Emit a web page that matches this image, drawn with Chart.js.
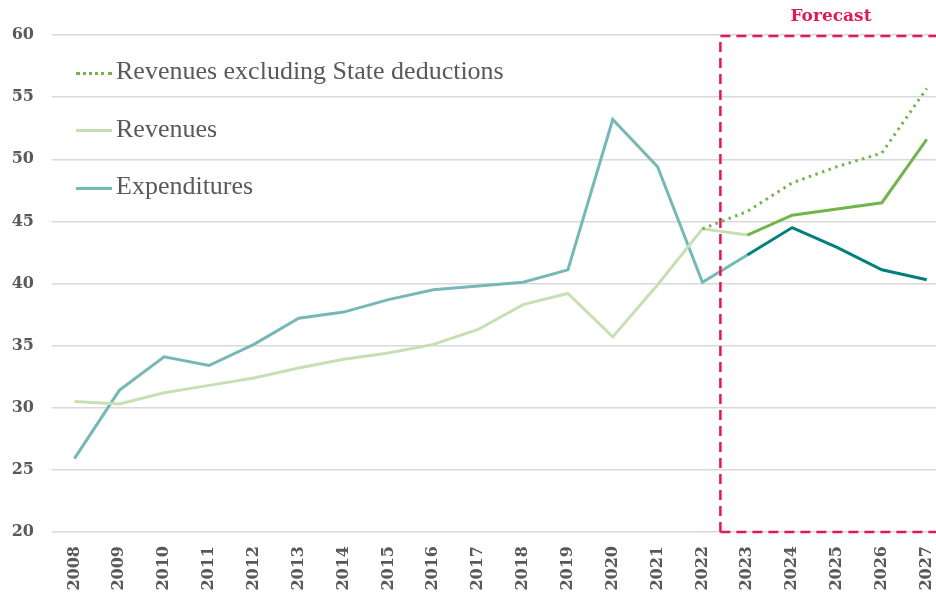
<!DOCTYPE html>
<html>
<head>
<meta charset="utf-8">
<script src="https://cdn.jsdelivr.net/npm/chart.js@4.4.1/dist/chart.umd.min.js"></script>
<style>
    html, body { margin: 0; padding: 0; background: #fff; overflow: hidden; }
    #wrap { position: relative; width: 936px; height: 596px; overflow: hidden; }
    #box { position: absolute; left: 0; top: 0; width: 952px; height: 596px; }
    .legend { position: absolute; left: 76px; top: 52px; font-family: 'Liberation Serif', serif; font-size: 26px; color: #595959; }
    .legend div { height: 57.5px; line-height: 38px; white-space: nowrap; }
    .legend span.sw { display: inline-block; width: 36px; vertical-align: middle; margin-right: 4px; }
</style>
</head>
<body>
<div id="wrap">
    <div id="box"><canvas id="chart"></canvas></div>
    <div class="legend">
        <div><span class="sw" style="border-top: 3px dotted #72b54b;"></span>Revenues excluding State deductions</div>
        <div><span class="sw" style="border-top: 3px solid #c6e0b4;"></span>Revenues</div>
        <div><span class="sw" style="border-top: 3px solid #76b8b7;"></span>Expenditures</div>
    </div>
</div>
<script>
const years = ['2008','2009','2010','2011','2012','2013','2014','2015','2016','2017',
               '2018','2019','2020','2021','2022','2023','2024','2025','2026','2027'];
const revenues = [30.5, 30.3, 31.2, 31.8, 32.4, 33.2, 33.9, 34.4, 35.1, 36.3,
                  38.3, 39.2, 35.7, 39.9, 44.4, 43.9, 45.5, 46.0, 46.5, 51.6];
const revenuesExDeductions = [null, null, null, null, null, null, null, null, null, null,
                              null, null, null, null, 44.4, 45.8, 48.1, 49.4, 50.5, 55.7];
const expenditures = [25.9, 31.4, 34.1, 33.4, 35.1, 37.2, 37.7, 38.7, 39.5, 39.8,
                      40.1, 41.1, 53.2, 49.4, 40.1, 42.3, 44.5, 42.9, 41.1, 40.3];
const yTicks = [20, 25, 30, 35, 40, 45, 50, 55, 60];
const forecastStart = 15; // index of 2023

const TICK_FONT = { family: "'DejaVu Serif', serif", size: 16, weight: 'bold' };
const RED = '#e2185b';

let chart = null;

function segColor(light, dark) {
    return function(ctx) {
        if (ctx.p0DataIndex >= forecastStart) return dark;
        if (ctx.p1DataIndex === forecastStart && chart) {
            const g = chart.ctx.createLinearGradient(ctx.p0.x, 0, ctx.p1.x, 0);
            g.addColorStop(0, light);
            g.addColorStop(0.55, light);
            g.addColorStop(1, dark);
            return g;
        }
        return light;
    };
}

const forecastBox = {
    id: 'forecastBox',
    afterDraw(c) {
        const x = c.scales.x, y = c.scales.y, ctx = c.ctx;
        const left = x.getPixelForValue(forecastStart - 0.6);
        const top = y.getPixelForValue(60) + 1;
        const bottom = y.getPixelForValue(20);
        const right = c.chartArea.right + 20;
        ctx.save();
        ctx.strokeStyle = RED;
        ctx.lineWidth = 2.5;
        ctx.setLineDash([10, 6]);
        ctx.beginPath();
        ctx.moveTo(left, bottom);
        ctx.lineTo(left, top);
        ctx.lineTo(right, top);
        ctx.moveTo(left, bottom);
        ctx.lineTo(right, bottom);
        ctx.stroke();
        ctx.setLineDash([]);
        ctx.fillStyle = RED;
        ctx.font = "bold 17px 'DejaVu Serif', serif";
        ctx.textAlign = 'center';
        ctx.textBaseline = 'middle';
        ctx.fillText('Forecast', 831, 17);
        ctx.restore();
    }
};

chart = new Chart(document.getElementById('chart'), {
    type: 'line',
    data: {
        labels: years,
        datasets: [
            {
                label: 'Revenues excluding State deductions',
                data: revenuesExDeductions,
                borderColor: '#72b54b',
                borderWidth: 3,
                borderDash: [2.5, 4.5],
                pointRadius: 0,
                tension: 0
            },
            {
                label: 'Revenues',
                data: revenues,
                borderColor: '#c6e0b4',
                borderWidth: 3,
                pointRadius: 0,
                tension: 0,
                segment: { borderColor: segColor('#c6e0b4', '#72b54b') }
            },
            {
                label: 'Expenditures',
                data: expenditures,
                borderColor: '#76b8b7',
                borderWidth: 3,
                pointRadius: 0,
                tension: 0,
                segment: { borderColor: segColor('#76b8b7', '#007f7b') }
            }
        ]
    },
    options: {
        responsive: true,
        maintainAspectRatio: false,
        animation: false,
        layout: { padding: { top: 35, right: 2, left: 0, bottom: 0 } },
        plugins: {
            legend: { display: false },
            tooltip: { enabled: false }
        },
        scales: {
            x: {
                offset: true,
                grid: { display: false },
                border: { display: false },
                ticks: {
                    color: '#595959',
                    font: TICK_FONT,
                    minRotation: 90,
                    maxRotation: 90,
                    autoSkip: false,
                    padding: 6
                },
                afterFit(scale) { scale.height = 64; }
            },
            y: {
                min: 20,
                max: 60,
                afterBuildTicks(scale) { scale.ticks = yTicks.map(v => ({ value: v })); },
                grid: { color: '#d9d9d9', lineWidth: 1.5, drawTicks: false },
                border: { display: false },
                ticks: {
                    color: '#595959',
                    font: TICK_FONT,
                    padding: 18
                },
                afterFit(scale) { scale.width = 52; }
            }
        }
    },
    plugins: [forecastBox]
});
</script>
</body>
</html>
